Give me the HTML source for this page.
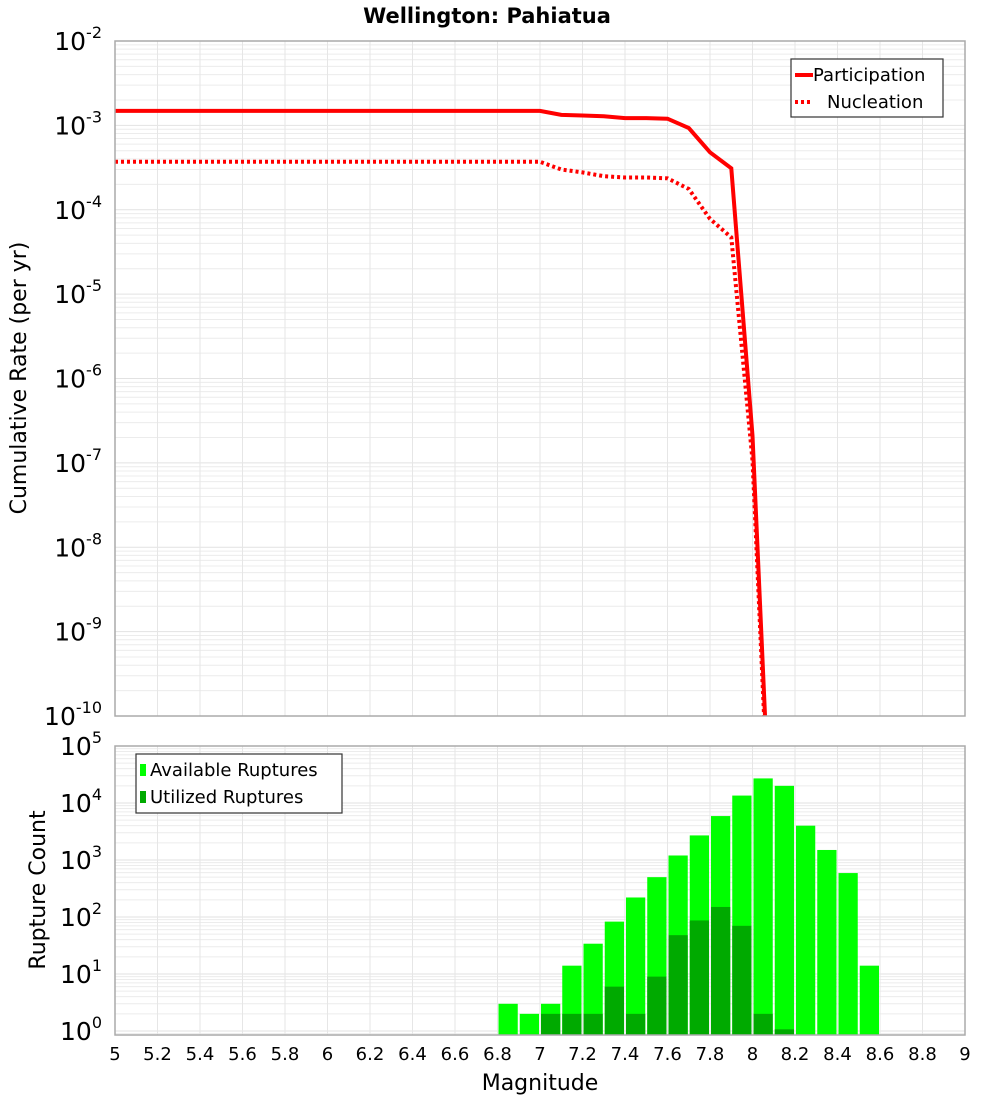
<!DOCTYPE html>
<html><head><meta charset="utf-8"><style>
body{margin:0;background:#fff;}
svg{display:block;font-family:"DejaVu Sans","Liberation Sans",sans-serif;}
</style></head><body>
<svg id="chart" width="1000" height="1100" xmlns="http://www.w3.org/2000/svg">
<rect width="1000" height="1100" fill="#fff"/>
<text x="487" y="23" font-size="21" font-weight="bold" text-anchor="middle">Wellington: Pahiatua</text>
<g id="topPlot"></g>
<g id="botPlot"></g>
<text transform="translate(26,378) rotate(-90)" font-size="22" text-anchor="middle">Cumulative Rate (per yr)</text>
<text transform="translate(45,890) rotate(-90)" font-size="22" text-anchor="middle">Rupture Count</text>
<text x="540" y="1090" font-size="22" text-anchor="middle">Magnitude</text>
</svg>
<script>
const mags = [5.0,5.1,5.2,5.3,5.4,5.5,5.6,5.7,5.8,5.9,6.0,6.1,6.2,6.3,6.4,6.5,6.6,6.7,6.8,6.9,7.0,7.1,7.2,7.3,7.4,7.5,7.6,7.7,7.8,7.9,8.0,8.1];
const participation = [1.486e-3,1.486e-3,1.486e-3,1.486e-3,1.486e-3,1.486e-3,1.486e-3,1.486e-3,1.486e-3,1.486e-3,1.486e-3,1.486e-3,1.486e-3,1.486e-3,1.486e-3,1.486e-3,1.486e-3,1.486e-3,1.486e-3,1.486e-3,1.486e-3,1.33e-3,1.31e-3,1.28e-3,1.22e-3,1.22e-3,1.20e-3,9.3e-4,4.8e-4,3.1e-4,2.1e-7,5e-13];
const nucleation = [3.7e-4,3.7e-4,3.7e-4,3.7e-4,3.7e-4,3.7e-4,3.7e-4,3.7e-4,3.7e-4,3.7e-4,3.7e-4,3.7e-4,3.7e-4,3.7e-4,3.7e-4,3.7e-4,3.7e-4,3.7e-4,3.7e-4,3.7e-4,3.7e-4,3.0e-4,2.77e-4,2.5e-4,2.41e-4,2.41e-4,2.36e-4,1.76e-4,7.8e-5,4.7e-5,1.07e-7,3e-13];
const binStarts = [6.8,6.9,7.0,7.1,7.2,7.3,7.4,7.5,7.6,7.7,7.8,7.9,8.0,8.1,8.2,8.3,8.4,8.5];
const available = [3,2,3,14,34,83,220,500,1200,2700,5900,13500,27000,20000,4000,1500,590,14];
const utilized = [0,0,2,2,2,6,2,9,48,87,150,70,2,1.07,0,0,0,0];
const xTicks = [5,5.2,5.4,5.6,5.8,6,6.2,6.4,6.6,6.8,7,7.2,7.4,7.6,7.8,8,8.2,8.4,8.6,8.8,9];
const topExps = [-2,-3,-4,-5,-6,-7,-8,-9,-10];
const botExps = [5,4,3,2,1,0];

const NS="http://www.w3.org/2000/svg";
const L=115,R=965,T1=41,B1=716,T2=746,B2=1035;
const xs=m=>L+(m-5)/4*(R-L);
const y1=v=>T1+(-2-Math.log10(v))*(B1-T1)/8;
const y2=v=>T2+(5-Math.log10(v))*57;
function mk(p,tag,a){const e=document.createElementNS(NS,tag);for(const k in a)e.setAttribute(k,a[k]);p.appendChild(e);return e;}
const svgRoot=document.getElementById('chart');
const gTop=document.getElementById('topPlot'),gBot=document.getElementById('botPlot');

function grid(g,T,B,ys,lo,hi){
  for(let d=lo;d<hi;d++)for(let k=1;k<10;k++){const y=ys(k*Math.pow(10,d));if(y<T||y>B)continue;
    const l=mk(g,'line',{x1:L,x2:R,y1:y,y2:y,stroke:k==1?'#e2e2e2':'#ececec','stroke-width':1});
    
    }
  xTicks.forEach(t=>{const x=xs(t);const l=mk(g,'line',{x1:x,x2:x,y1:T,y2:B,stroke:'#e6e6e6','stroke-width':1});
    
    });
}
grid(gTop,T1,B1,y1,-10,-2);
grid(gBot,T2,B2,y2,-1,5);

const defs=mk(svgRoot,'defs',{});
const cp=mk(defs,'clipPath',{id:'c1'});mk(cp,'rect',{x:L,y:T1,width:R-L,height:B1-T1});

function pts(arr){return mags.map((m,i)=>xs(m).toFixed(1)+','+y1(arr[i]).toFixed(1)).join(' ');}
const pn=mk(gTop,'polyline',{points:pts(nucleation),fill:'none',stroke:'#ff0000','stroke-width':4,'stroke-dasharray':'3,3','clip-path':'url(#c1)'});


const pp=mk(gTop,'polyline',{points:pts(participation),fill:'none',stroke:'#ff0000','stroke-width':4,'clip-path':'url(#c1)'});



const bw=(R-L)/40;
binStarts.forEach((m,i)=>{
  const x=xs(m)+1;
  const b=mk(gBot,'rect',{x:x,y:y2(available[i]),width:bw-2,height:B2-y2(available[i]),fill:'#00ff00'});
  
  
  if(utilized[i]>0){const u=mk(gBot,'rect',{x:x,y:y2(utilized[i]),width:bw-2,height:B2-y2(utilized[i]),fill:'#00aa00'});
    
    }
});

[[T1,B1],[T2,B2]].forEach(([T,B])=>{const f=mk(svgRoot,'rect',{x:L,y:T,width:R-L,height:B-T,fill:'none',stroke:'#aaa','stroke-width':1.5});
  
  });

function ylab(g,y,e){const t=mk(g,'text',{x:102,y:y+9,'font-size':25,'text-anchor':'end'});
  
  
  t.textContent='10';const s=mk(t,'tspan',{dy:-12,'font-size':16});s.textContent=String(e);}
topExps.forEach(e=>ylab(gTop,y1(Math.pow(10,e)),e));
botExps.forEach(e=>ylab(gBot,y2(Math.pow(10,e)),e));

xTicks.forEach(t=>{const tx=mk(gBot,'text',{x:xs(t),y:1060,'font-size':18,'text-anchor':'middle'});
  
  
  tx.textContent=String(t);});

function legend(g,x,y,w,h,items){
  const r=mk(g,'rect',{x:x,y:y,width:w,height:h,fill:'#fff',stroke:'#333','stroke-width':1.2});
  
  
  items.forEach((it,i)=>{const yy=y+16+i*27;
    if(it.type=='line'){const l=mk(g,'line',{x1:x+4,x2:x+22,y1:yy,y2:yy,stroke:'#f00','stroke-width':4});if(it.dash)l.setAttribute('stroke-dasharray','3,3');
      
      }
    else{const s=mk(g,'rect',{x:x+4,y:yy-6,width:6,height:12,fill:it.color});
      
      }
    const t=mk(g,'text',{x:x+it.tx,y:yy+6,'font-size':18});
    
    
    t.textContent=it.label;});
}
legend(gTop,791,59,152,58,[{type:'line',label:'Participation',tx:22},{type:'line',dash:1,label:'Nucleation',tx:36}]);
legend(gBot,136,754,206,59,[{type:'rect',color:'#00ff00',label:'Available Ruptures',tx:14},{type:'rect',color:'#00aa00',label:'Utilized Ruptures',tx:14}]);
</script>
</body></html>
